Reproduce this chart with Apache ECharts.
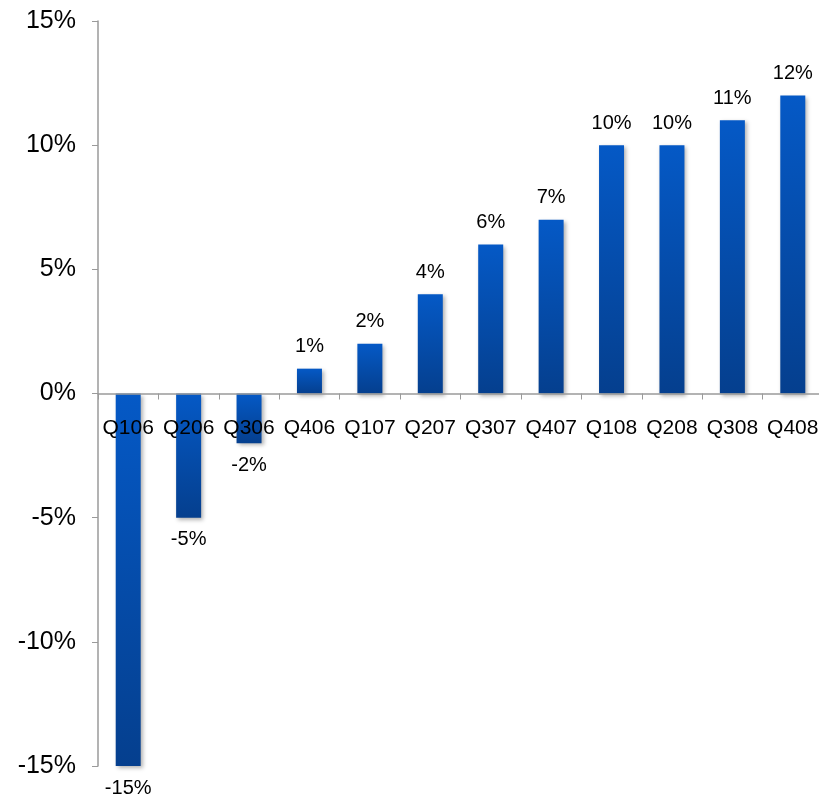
<!DOCTYPE html>
<html>
<head>
<meta charset="utf-8">
<script src="https://cdn.jsdelivr.net/npm/echarts@6/dist/echarts.min.js"></script>
<style>
html, body { margin: 0; padding: 0; background: #fff; }
#chart { width: 819px; height: 800px; }
</style>
</head>
<body>
<div id="chart"></div>
<script>
// quarters and growth (%)
const quarters = ['Q106', 'Q206', 'Q306', 'Q406', 'Q107', 'Q207', 'Q307', 'Q407', 'Q108', 'Q208', 'Q308', 'Q408'];
const growth = [-15, -5, -2, 1, 2, 4, 6, 7, 10, 10, 11, 12];

const chart = echarts.init(document.getElementById('chart'));

const barColor = new echarts.graphic.LinearGradient(0, 0, 0, 1, [
    { offset: 0, color: '#0559c6' },
    { offset: 1, color: '#053f8e' }
]);

const font = 'Liberation Sans, Arial, sans-serif';

const option = {
    animation: false,
    grid: { left: 98, top: 21, width: 725, height: 745, containLabel: false, outerBoundsMode: 'none' },
    xAxis: {
        type: 'category',
        data: quarters,
        z: 5,
        offset: -372.5, // puts the axis on the 0% line
        axisLine: { onZero: false, lineStyle: { color: '#9a9a9a', width: 1.5 } },
        axisTick: { show: true, alignWithLabel: false, length: 6, lineStyle: { color: '#9a9a9a' } },
        axisLabel: {
            margin: 24,
            color: '#000',
            fontFamily: font,
            fontSize: 21,
            interval: 0
        }
    },
    yAxis: {
        type: 'value',
        min: -15,
        max: 15,
        interval: 5,
        splitLine: { show: false },
        axisLine: { show: true, lineStyle: { color: '#9a9a9a', width: 1.5 } },
        axisTick: { show: true, length: 6, lineStyle: { color: '#9a9a9a' } },
        axisLabel: {
            margin: 22,
            color: '#000',
            fontFamily: font,
            fontSize: 25,
            formatter: '{value}%'
        }
    },
    series: [{
        type: 'bar',
        data: growth.map(v => ({
            value: v,
            label: { position: v < 0 ? 'bottom' : 'top' }
        })),
        barWidth: 25,
        itemStyle: {
            color: barColor,
            shadowBlur: 4,
            shadowOffsetX: 2,
            shadowOffsetY: 2,
            shadowColor: 'rgba(0,0,0,0.3)'
        },
        label: {
            show: true,
            distance: 12,
            color: '#000',
            fontFamily: font,
            fontSize: 20,
            formatter: '{c}%'
        }
    }]
};

chart.setOption(option);
</script>
</body>
</html>
